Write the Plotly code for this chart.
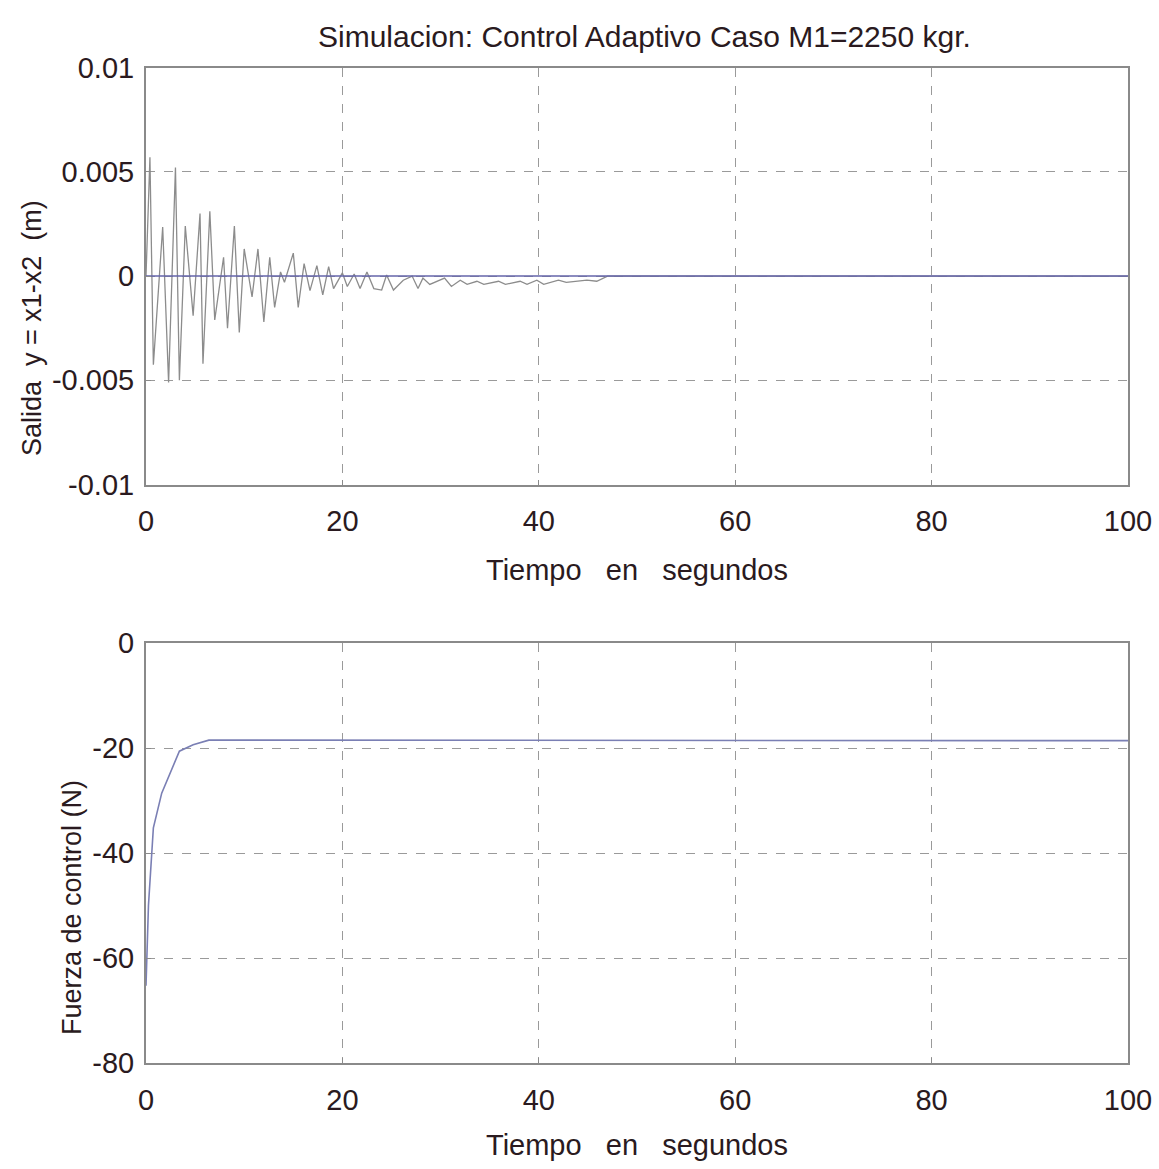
import plotly.graph_objects as go

# ---- data ----
t_out = [0, 0.4, 0.75, 1.7, 2.3, 3.0, 3.4, 4.0, 4.8, 5.5, 5.8, 6.5, 7.0, 7.9, 8.3, 9.0, 9.5,
         10.0, 10.8, 11.4, 12.0, 12.6, 13.1, 13.7, 14.1, 15.0, 15.5, 16.1, 16.7, 17.4, 18.0,
         18.6, 19.1, 20.0, 20.5, 21.2, 21.8, 22.5, 23.2, 24.0, 24.5, 25.2, 26.2, 27.1, 27.7,
         28.2, 28.9, 30.4, 31.1, 32.0, 32.7, 33.7, 34.4, 35.9, 36.6, 38.1, 38.8, 39.8, 40.5,
         42.0, 42.8, 44.9, 45.9, 47.0, 100]
y_out = [0, 0.0057, -0.00425, 0.00235, -0.0051, 0.0052, -0.005, 0.0024, -0.0019, 0.003,
         -0.0042, 0.0031, -0.0021, 0.0009, -0.0025, 0.0024, -0.0027, 0.0013, -0.001, 0.0013,
         -0.0022, 0.0009, -0.0015, 0.0002, -0.0003, 0.0011, -0.0015, 0.0006, -0.0007, 0.0005,
         -0.0009, 0.00045, -0.0006, 0.00015, -0.0005, 0.0001, -0.0006, 0.0002, -0.0006,
         -0.00067, 0.00005, -0.00067, -0.0002, 0.0, -0.0006, -0.0001, -0.0004, -0.0001,
         -0.0005, -0.0002, -0.0004, -0.00025, -0.0004, -0.00025, -0.0004, -0.00025, -0.0004,
         -0.0002, -0.0004, -0.0002, -0.0003, -0.0002, -0.00025, 0.0, 0.0]
t_ref = [0, 100]
y_ref = [0, 0]

t_u = [0, 0.25, 0.75, 1.6, 3.4, 4.8, 6.4, 10, 20, 40, 60, 80, 100]
u = [-65.3, -50, -35.2, -28.6, -20.6, -19.4, -18.5, -18.5, -18.5, -18.5, -18.5, -18.6, -18.6]

title_text = "Simulacion: Control Adaptivo Caso M1=2250 kgr."
x_title = "Tiempo\u00a0\u00a0 en\u00a0\u00a0 segundos"
y1_title = "Salida\u00a0\u00a0y = x1-x2\u00a0\u00a0(m)"
y2_title = "Fuerza de control (N)"
x_ticks = [0, 20, 40, 60, 80, 100]
y1_ticks = [-0.01, -0.005, 0, 0.005, 0.01]
y1_labels = ["-0.01", "-0.005", "0", "0.005", "0.01"]
y2_ticks = [-80, -60, -40, -20, 0]
y2_labels = ["-80", "-60", "-40", "-20", "0"]

FONT = "Liberation Sans, Arial, sans-serif"
TXT = "#2a1a20"
W, H = 1159, 1169

fig = go.Figure()
fig.add_trace(go.Scatter(x=t_out, y=y_out, mode="lines",
                         line=dict(color="#8c8c8c", width=1.3), xaxis="x", yaxis="y"))
fig.add_trace(go.Scatter(x=t_ref, y=y_ref, mode="lines",
                         line=dict(color="#6464aa", width=1.5), xaxis="x", yaxis="y"))
fig.add_trace(go.Scatter(x=t_u, y=u, mode="lines",
                         line=dict(color="#7a7fb4", width=1.6), xaxis="x2", yaxis="y2"))

xdom = [146 / W, 1128 / W]
y1dom = [1 - 484.6 / H, 1 - 67.5 / H]
y2dom = [1 - 1063 / H, 1 - 643 / H]

axcommon = dict(showline=True, linecolor="#8a8a8a", linewidth=2, mirror=True,
                showgrid=True, gridcolor="#9a9a9a", griddash="dash", gridwidth=1.2,
                ticks="inside", ticklen=5, tickcolor="#8a8a8a", automargin=False,
                zeroline=False, tickfont=dict(family=FONT, size=29, color=TXT))

xt = dict(family=FONT, size=29, color=TXT)
yt = dict(family=FONT, size=27, color=TXT)

fig.update_layout(
    width=W, height=H, margin=dict(l=0, r=0, t=0, b=0),
    paper_bgcolor="white", plot_bgcolor="white", showlegend=False,
    font=dict(family=FONT, color=TXT),
    xaxis=dict(domain=xdom, range=[0, 100], tickvals=x_ticks, anchor="y", ticklabelstandoff=10,
               title=dict(text=x_title, font=xt, standoff=23), **axcommon),
    yaxis=dict(domain=y1dom, range=[-0.01, 0.01], tickvals=y1_ticks, ticktext=y1_labels, anchor="x",
               ticklabelstandoff=4, **axcommon),
    xaxis2=dict(domain=xdom, range=[0, 100], tickvals=x_ticks, anchor="y2", ticklabelstandoff=10,
                title=dict(text=x_title, font=xt, standoff=20), **axcommon),
    yaxis2=dict(domain=y2dom, range=[-80, 0], tickvals=y2_ticks, ticktext=y2_labels, anchor="x2",
                ticklabelstandoff=4, **axcommon),
    annotations=[
        dict(text=title_text, x=644 / W, y=1 - 37 / H, xref="paper", yref="paper",
             showarrow=False, font=dict(family=FONT, size=30, color=TXT),
             xanchor="center", yanchor="middle"),
        dict(text=y1_title, x=32 / W, y=1 - 328 / H, xref="paper", yref="paper", textangle=-90,
             showarrow=False, font=yt, xanchor="center", yanchor="middle"),
        dict(text=y2_title, x=72 / W, y=1 - 908 / H, xref="paper", yref="paper", textangle=-90,
             showarrow=False, font=yt, xanchor="center", yanchor="middle"),
    ],
)

fig.write_html("out.html")
